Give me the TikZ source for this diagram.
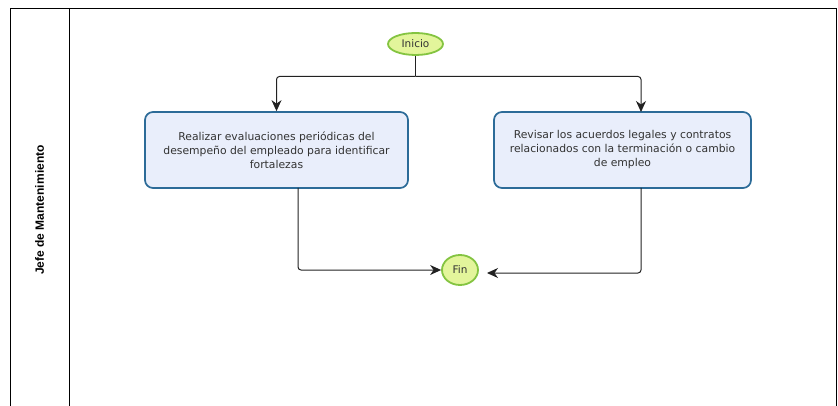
\documentclass[tikz,border=0pt]{standalone}
\usepackage{fontspec}
\setmainfont{DejaVu Sans}
\newfontfamily\lanefont{Liberation Sans}
\usetikzlibrary{arrows.meta,calc,shapes.geometric}
\definecolor{taskfill}{HTML}{E9EEFB}
\definecolor{taskline}{HTML}{2C6B98}
\definecolor{evfill}{HTML}{E3F59B}
\definecolor{evline}{HTML}{84C441}
\definecolor{flowline}{HTML}{222222}
\definecolor{txt}{HTML}{333333}
\tikzset{
  taskbox/.style={draw=taskline, line width=1.7pt, fill=taskfill, rounded corners=8pt,
    minimum width=263pt, minimum height=76pt, align=center, font=\fontsize{10.8}{14}\selectfont,
    text=txt, inner sep=0pt},
  event/.style={ellipse, draw=evline, line width=1.8pt, fill=evfill, inner sep=0pt,
    font=\fontsize{10.5}{12}\selectfont, text=txt},
  flow/.style={draw=flowline, line width=1pt, rounded corners=3pt,
    -{Stealth[length=11pt,width=10pt,inset=3.5pt]}},
  plain/.style={draw=flowline, line width=1pt, rounded corners=3pt},
  pool/.style={draw=black, line width=0.8pt}
}
\begin{document}
\begin{tikzpicture}[x=1pt,y=-1pt]
  \useasboundingbox[fill=white] (0,0) rectangle (838,406);
  % pool frame and lane header
  \draw[pool] (10,410) -- (10,8) -- (836,8) -- (836,410);
  \draw[pool] (69,8) -- (69,410);
  \node[rotate=90, font=\lanefont\bfseries\fontsize{12}{14}\selectfont] (lane) at (39.5,210) {Jefe de Mantenimiento};

  % events
  \node[event, minimum width=55pt, minimum height=22pt] (inicio) at (415.5,44) {Inicio};
  \node[event, minimum width=36pt, minimum height=30pt] (fin) at (460,270) {Fin};

  % tasks
  \node[taskbox] (t1) at (276.5,150) {Realizar evaluaciones periódicas del\\desempeño del empleado para identificar\\fortalezas};
  \node[taskbox, minimum width=257pt] (t2) at (622.5,150) {Revisar los acuerdos legales y contratos\\relacionados con la terminación o cambio\\de empleo};

  % split point below the start event
  \coordinate (split) at (415.5,76.5);
  \coordinate (t2in) at (641,112);
  \coordinate (t1out) at (298,188);
  \coordinate (t2out) at (641,188);
  \coordinate (finR) at (487,273);

  \draw[plain] (inicio.south) -- (split);
  \draw[flow] (split) -| (t1.north);
  \draw[flow] (split) -| (t2in);
  \draw[flow] (t1out) |- (fin.west);
  \draw[flow] (t2out) |- (finR);
\end{tikzpicture}
\end{document}
